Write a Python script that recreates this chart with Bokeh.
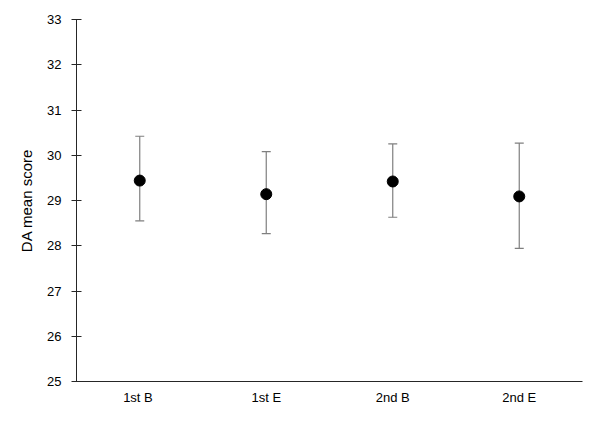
from bokeh.plotting import figure
from bokeh.models import ColumnDataSource, Whisker, TeeHead, FactorRange, FixedTicker
from bokeh.embed import file_html
from bokeh.resources import INLINE

categories = ["1st  B", "1st E", "2nd B", "2nd E"]
means = [29.44, 29.14, 29.42, 29.09]
upper = [30.42, 30.08, 30.25, 30.27]
lower = [28.55, 28.27, 28.63, 27.94]
y_ticks = [25, 26, 27, 28, 29, 30, 31, 32, 33]

src = ColumnDataSource(dict(x=categories, y=means, upper=upper, lower=lower))

FONT = "Liberation Sans"

p = figure(width=584, height=407, x_range=FactorRange(*categories, range_padding=0),
           y_range=(25, 33), output_backend="svg", toolbar_location=None,
           min_border_left=76, min_border_right=2, min_border_top=19, min_border_bottom=24)
p.outline_line_color = None
p.xgrid.visible = False
p.ygrid.visible = False

w = Whisker(base="x", upper="upper", lower="lower", source=src,
            line_color="#7f7f7f", line_width=1.2,
            upper_head=TeeHead(size=9, line_color="#7f7f7f", line_width=1.2),
            lower_head=TeeHead(size=9, line_color="#7f7f7f", line_width=1.2))
p.add_layout(w)
p.scatter("x", "y", source=src, size=11, color="black")

p.yaxis.ticker = FixedTicker(ticks=y_ticks, minor_ticks=[])
p.yaxis.axis_label = "DA mean score"
p.yaxis.axis_label_text_font = FONT
p.yaxis.axis_label_text_font_style = "normal"
p.yaxis.axis_label_text_font_size = "15px"
p.yaxis.axis_label_text_color = "#000000"
p.yaxis.axis_label_standoff = 9
p.yaxis.major_label_text_font = FONT
p.yaxis.major_label_text_font_size = "13px"
p.yaxis.major_label_text_color = "#000000"
p.yaxis.major_label_standoff = 10
p.yaxis.major_tick_in = 5
p.yaxis.major_tick_out = 5
p.yaxis.minor_tick_line_color = None
p.yaxis.axis_line_color = "#262626"
p.yaxis.major_tick_line_color = "#262626"

p.xaxis.major_tick_line_color = None
p.xaxis.minor_tick_line_color = None
p.xaxis.major_tick_in = 0
p.xaxis.major_tick_out = 0
p.xaxis.axis_line_color = "#262626"
p.xaxis.major_label_text_font = FONT
p.xaxis.major_label_text_font_size = "13px"
p.xaxis.major_label_text_color = "#000000"
p.xaxis.major_label_standoff = 8

open("out.html", "w").write(file_html(p, INLINE))
